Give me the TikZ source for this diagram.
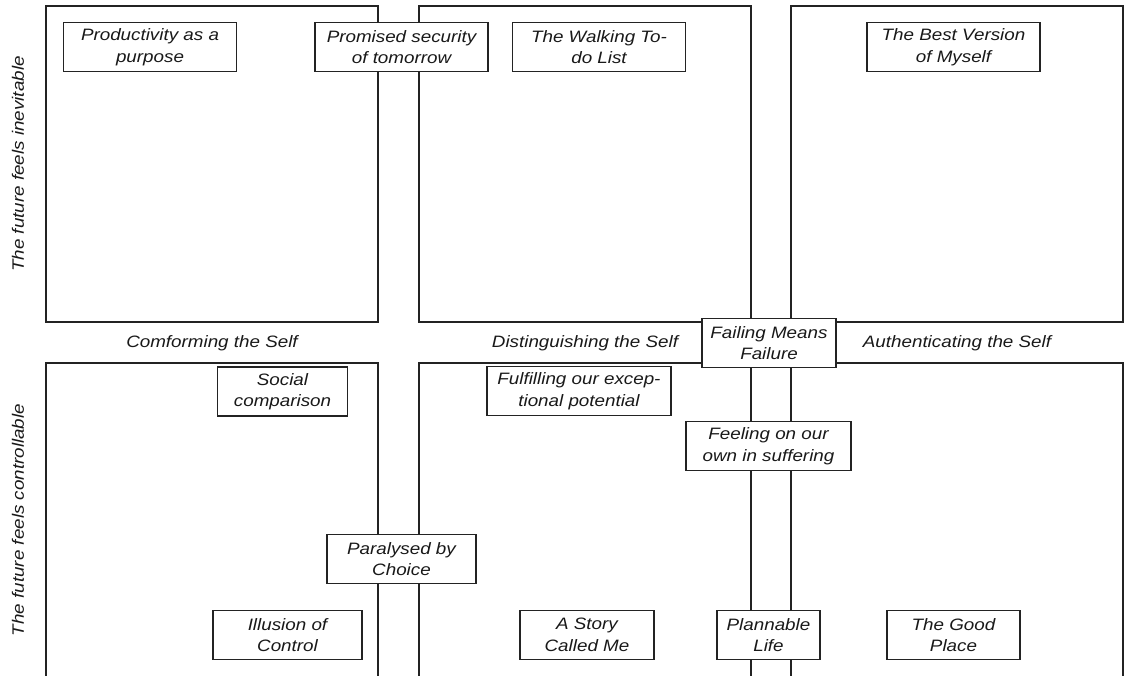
\documentclass[tikz,border=0pt]{standalone}
\usepackage{fontspec}
\setmainfont{Liberation Sans}[FakeStretch=1.14]
\usepackage{tikz}
\usetikzlibrary{positioning}
\definecolor{myline}{RGB}{35,35,35}
\definecolor{mytext}{RGB}{25,25,25}

\begin{document}
\begin{tikzpicture}[
          x=1pt,y=-1pt,
          quad/.style={draw=myline,line width=1.4pt},
          idea/.style={draw=myline,line width=1.4pt,fill=white,align=center,
            font=\itshape\fontsize{16.5}{21.5}\selectfont,text=mytext,
            minimum height=49pt,inner sep=0pt},
          axis/.style={font=\itshape\fontsize{16.5}{21.5}\selectfont,text=mytext}
          ]
          \useasboundingbox (0,0) rectangle (1127,676);
          \clip (0,0) rectangle (1127,676);

          % the quadrants
          \foreach \xcoord in {46,419,791} {
            \draw[quad] (\xcoord,6) rectangle +(332,316);
            \draw[quad] (\xcoord,363) rectangle +(332,316);
          }

          % the axes
          \node[axis] (conform) at (212,343) {Comforming the Self};
          \node[axis] (distinct) at (585,343) {Distinguishing the Self};
          \node[axis] (authentic) at (957,343) {Authenticating the Self};
          \node[axis,rotate=90] (inevitable) at (18,164) {The future feels inevitable};
          \node[axis,rotate=90] (controllable) at (18,520) {The future feels controllable};

          % the themes
          \foreach \i/\xcoord/\ycoord/\w/\txt in {
              1/150/47/173/{Productivity as a\\purpose},
              2/401.5/47/173/{Promised security\\of tomorrow},
              3/599/47/173/{The Walking To-\\do List},
              4/953.5/47/173/{The Best Version\\of Myself},
              5/769/343/134/{Failing Means\\Failure},
              6/282.5/391.5/130/{Social\\comparison},
              7/579/391/184/{Fulfilling our excep-\\tional potential},
              8/768.5/446/165/{Feeling on our\\own in suffering},
              9/401.5/559/149/{Paralysed by\\Choice},
              10/287.5/635/149/{Illusion of\\Control},
              11/587/635/134/{A Story\\Called Me},
              12/768.5/635/103/{Plannable\\Life},
              13/953.5/635/133/{The Good\\Place}}
            \node[idea,minimum width=\w pt] (t\i) at (\xcoord,\ycoord) {\txt};
        \end{tikzpicture}
\end{document}
